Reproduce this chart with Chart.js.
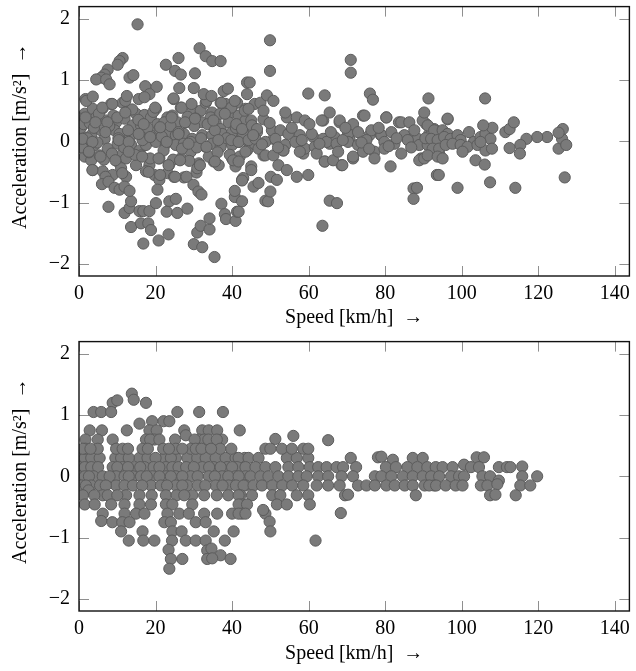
<!DOCTYPE html>
<html>
<head>
<meta charset="utf-8">
<script src="https://cdn.jsdelivr.net/npm/chart.js@4.4.1/dist/chart.umd.min.js"></script>
<style>
  html, body { margin: 0; padding: 0; background: #fff; }
  canvas { display: block; }
</style>
</head>
<body>
<canvas id="top" width="636" height="335"></canvas>
<canvas id="bottom" width="636" height="336"></canvas>
<script>
// ---- Data (speed km/h, acceleration m/s^2) ----
const xTickValues = [0, 20, 40, 60, 80, 100, 120, 140];
const yTickValues = [-2, -1, 0, 1, 2];
const xTitle = 'Speed [km/h]  \u2192';
const yTitle = '\u2002Acceleration [m/s\u00B2]  \u2192';

// upper panel: sparse outliers above the band
const topUpper = [
  [15.3,1.91],[31.5,1.52],[33.1,1.39],[34.8,1.31],[37.0,1.31],[11.4,1.36],[10.6,1.31],[10.1,1.25],
  [7.5,1.17],[6.7,1.09],[5.8,1.04],[4.5,1.01],[7.1,1.01],[8.0,0.93],[13.2,1.04],[14.2,1.08],
  [22.7,1.25],[25.1,1.15],[26.6,1.09],[26.0,1.36],[30.3,1.11],[17.3,0.90],[20.3,0.89],[18.4,0.77],
  [17.1,0.72],[26.2,0.87],[30.0,0.87],[32.6,0.77],[34.6,0.74],[37.8,0.82],[38.9,0.86],[43.9,0.96],
  [1.9,0.66],[3.6,0.73],[12.5,0.74],[24.7,0.70],
  [49.9,1.65],[49.9,1.15],[44.6,0.96],[71.0,1.33],[71.0,1.12],[59.9,0.78],[64.2,0.75],[76.0,0.78],
  [76.8,0.68],[91.3,0.70],[90.2,0.47],[106.1,0.70],[96.3,0.37],[113.6,0.31],[126.4,0.20],[125.3,0.14]
];
// upper panel: sparse outliers below the band
const topLower = [
  [7.7,-1.07],[11.9,-1.17],[13.2,-1.09],[15.8,-1.14],[16.8,-1.14],[18.4,-1.14],[13.6,-0.98],[20.1,-1.01],
  [23.6,-0.98],[25.3,-0.94],[22.9,-1.15],[25.7,-1.17],[28.3,-1.10],[13.6,-1.40],[16.2,-1.34],[18.1,-1.34],
  [18.8,-1.45],[16.8,-1.67],[20.8,-1.62],[23.4,-1.52],[30.0,-1.68],[32.2,-1.73],[30.9,-1.49],[31.8,-1.38],
  [34.1,-1.44],[34.1,-1.26],[35.4,-1.89],[37.2,-1.02],[38.1,-1.19],[38.4,-1.27],[40.9,-1.30],[41.3,-1.15],
  [40.7,-0.91],[42.6,-0.98],[6.0,-0.70],[7.7,-0.66],[9.3,-0.76],[10.6,-0.79],[11.9,-0.74],[13.2,-0.81],
  [20.5,-0.79],[29.9,-0.71],[31.2,-0.82],[32.0,-0.87],[40.7,-0.81],[42.6,-0.64],
  [65.5,-0.97],[67.4,-1.01],[63.6,-1.38],[87.4,-0.77],[88.3,-0.76],[87.4,-0.94],[81.4,-0.41],[48.7,-0.97],
  [49.4,-0.98],[50.0,-0.82],[41.7,-1.15],[45.6,-0.74],[46.9,-0.68],[50.1,-0.58],[51.7,-0.63],[59.9,-0.55],
  [56.9,-0.58],[68.8,-0.39],[93.5,-0.55],[41.7,-0.33],[45.0,-0.47],[52.1,-0.39],[54.3,-0.47],
  [127.3,-0.06],[126.9,-0.59],[94.0,-0.55],[98.9,-0.76],[107.4,-0.67],[114.0,-0.76],[103.6,-0.31],[106.0,-0.38]
];
// upper panel: dense band, 0-45 km/h
const topBandSlow = [
  [1.5,0.45],[3.6,0.53],[6.2,0.54],[8.4,0.61],[11.4,0.63],[12.3,0.47],[14.9,0.45],[17.1,0.43],[20.1,0.53],
  [23.1,0.39],[24.4,0.42],[26.6,0.55],[29.6,0.54],[31.8,0.50],[33.1,0.63],[34.8,0.47],[37.0,0.63],[38.3,0.61],
  [40.0,0.47],[41.3,0.63],[43.5,0.53],
  [0.2,0.37],[1.5,0.34],[4.5,0.39],[7.1,0.34],[9.7,0.31],[11.9,0.37],[14.0,0.26],[16.2,0.26],[18.8,0.39],
  [20.5,0.28],[22.3,0.31],[25.7,0.31],[27.9,0.31],[30.5,0.37],[32.2,0.31],[34.4,0.39],[35.7,0.31],[37.0,0.20],
  [39.1,0.31],[41.7,0.42],[43.5,0.34],
  [0.0,0.12],[1.0,0.07],[3.2,0.10],[5.8,0.18],[6.7,0.04],[9.3,0.18],[10.6,0.12],[13.2,0.04],[15.8,0.12],
  [18.8,0.10],[21.0,0.20],[23.5,0.12],[25.3,0.10],[27.4,0.12],[29.6,0.04],[32.2,0.10],[34.8,0.10],[37.4,0.12],
  [40.0,0.15],[42.6,0.07],[44.3,-0.01],
  [0.2,-0.04],[1.9,-0.12],[4.1,-0.06],[7.5,-0.12],[10.1,-0.04],[11.4,-0.20],[13.6,-0.06],[15.8,-0.15],
  [17.5,-0.06],[20.1,-0.01],[22.7,-0.04],[25.3,-0.06],[27.4,-0.04],[29.2,-0.01],[33.1,-0.09],[34.8,-0.04],
  [37.0,-0.09],[40.0,-0.06],[41.7,-0.01],[43.9,-0.15],
  [1.5,-0.25],[3.2,-0.31],[5.4,-0.23],[10.1,-0.33],[12.3,-0.28],[14.9,-0.39],[16.2,-0.23],[18.4,-0.39],
  [21.0,-0.28],[23.5,-0.39],[26.6,-0.28],[29.2,-0.17],[31.3,-0.36],[35.2,-0.33],[36.5,-0.39],[40.0,-0.28],
  [40.9,-0.41],
  [3.6,-0.47],[6.2,-0.49],[8.8,-0.55],[11.0,-0.44],[12.3,-0.58],[17.5,-0.49],[19.7,-0.55],[21.0,-0.63],
  [23.1,-0.52],[24.8,-0.58],[27.4,-0.59],[30.7,-0.51],[30.9,-0.44],[42.6,-0.63],
  [0.5,0.22],[0.8,-0.10],[1.2,0.28],[2.2,0.05],[2.6,-0.18],[2.8,0.30],[3.9,0.22],[4.8,-0.02],[5.2,0.45],
  [6.5,-0.30],[7.9,0.25],[8.6,-0.20],[9.0,0.42],[10.3,0.05],[11.8,-0.10],[12.8,0.18],[13.9,0.52],[14.6,-0.22],
  [15.5,0.35],[16.6,0.02],[17.9,0.22],[18.6,-0.28],[19.4,0.48],[21.6,0.08],[22.1,-0.15],[23.9,0.25],
  [24.6,-0.30],[26.0,0.15],[26.9,-0.12],[28.4,0.40],[28.8,-0.32],[30.1,0.25],[30.8,-0.10],[31.9,0.05],
  [33.6,0.28],[33.9,-0.25],[35.5,0.18],[36.2,-0.18],[36.9,0.45],[38.6,0.05],[39.4,-0.22],[39.8,0.55],
  [41.0,0.22],[42.0,-0.25],[43.2,0.12]
];
// upper panel: further band points read from close-ups
const topBandExtra = [
  [1.7,0.69],[6.1,0.55],[8.7,0.61],[12.1,0.66],[15.6,0.69],[19.9,0.55],[24.7,0.69],[26.8,0.55],[29.4,0.61],
  [33.3,0.66],[37.2,0.63],[40.7,0.66],[43.3,0.50],[45.9,0.61],
  [1.7,0.39],[4.3,0.31],[7.4,0.31],[10.0,0.39],[12.1,0.47],[16.9,0.28],[21.2,0.23],[24.2,0.39],[27.7,0.31],
  [30.3,0.37],[35.1,0.34],[38.1,0.45],[41.1,0.28],[45.0,0.34],
  [0.9,0.04],[3.5,-0.01],[6.9,0.15],[10.4,0.02],[13.0,-0.01],[15.6,0.12],[18.6,0.07],[22.9,-0.01],[26.0,0.12],
  [28.6,-0.04],[33.3,-0.09],[36.4,0.02],[39.8,0.02],[42.9,0.12],[45.9,-0.04],
  [2.6,-0.17],[5.6,-0.25],[9.5,-0.31],[13.0,-0.17],[16.5,-0.25],[20.8,-0.28],[23.4,-0.39],[26.4,-0.31],
  [31.6,-0.39],[35.5,-0.33],[40.3,-0.31],[45.0,-0.41],
  [3.5,-0.47],[6.9,-0.58],[11.3,-0.52],[18.2,-0.50],[21.2,-0.55],[25.1,-0.58],[28.1,-0.58],[42.9,-0.60],
  [48.2,0.36],[54.3,0.39],[63.8,0.34],[68.1,0.31],[74.2,0.42],[80.3,0.39],[83.6,0.31],[90.7,0.28],[96.3,0.36],
  [46.5,0.15],[50.8,0.04],[57.8,-0.01],[61.2,0.07],[65.5,-0.04],[70.7,0.02],[75.9,0.10],[78.9,0.10],[86.3,0.04],
  [91.5,0.12],[94.9,-0.01],
  [48.2,-0.23],[53.4,-0.15],[58.6,-0.20],[64.2,-0.33],[68.6,-0.39],[71.6,-0.28],[89.4,-0.28],[94.1,-0.20]
];
// upper panel: band, 42-128 km/h
const topBandFast = [
  [43.9,0.77],[47.4,0.63],[49.1,0.75],[50.8,0.66],[48.2,0.50],[44.3,0.53],[53.9,0.47],[56.9,0.39],[59.0,0.34],
  [63.4,0.34],[65.5,0.47],[68.1,0.34],[71.6,0.28],[74.6,0.42],[80.3,0.39],[84.2,0.31],[86.3,0.31],[89.8,0.34],
  [92.8,0.20],
  [42.6,0.20],[45.2,0.26],[46.5,0.20],[50.4,0.18],[52.6,0.18],[54.7,0.12],[57.7,0.10],[60.8,0.12],[63.8,0.04],
  [66.8,0.07],[70.3,0.12],[72.9,0.15],[76.4,0.18],[79.0,0.10],[81.6,0.15],[85.0,0.10],[88.5,0.04],[91.9,0.10],
  [41.7,-0.01],[44.3,0.02],[46.1,0.04],[48.7,-0.01],[51.3,0.04],[53.9,-0.06],[56.5,-0.01],[59.0,-0.12],
  [61.6,-0.09],[64.7,-0.01],[67.3,-0.04],[70.3,-0.01],[72.9,-0.06],[75.1,0.02],[77.2,-0.17],[79.8,-0.01],
  [82.4,-0.04],[85.9,0.02],[88.9,-0.06],[91.1,-0.06],[93.7,-0.01],
  [43.5,-0.17],[46.9,-0.12],[48.7,-0.23],[50.8,-0.23],[53.4,-0.15],[57.7,-0.17],[62.1,-0.20],[64.2,-0.33],
  [66.4,-0.31],[67.7,-0.17],[71.6,-0.25],[74.2,-0.17],[77.2,-0.28],[79.8,-0.12],[84.2,-0.20],[88.9,-0.31],
  [90.2,-0.28],
  [45.5,0.10],[47.8,-0.05],[49.8,0.30],[52.0,-0.10],[55.6,0.22],[58.2,0.02],[60.2,0.28],[62.8,-0.04],
  [65.8,0.15],[68.9,0.02],[69.6,0.22],[73.8,-0.02],[75.8,-0.12],[78.3,0.22],[80.9,-0.08],[83.0,0.05],
  [86.8,-0.10],[87.6,0.18],[90.5,0.05],
  [91.1,0.26],[92.8,0.18],[95.0,0.18],[96.3,0.12],[92.0,0.04],[93.7,0.02],[95.4,0.07],[97.1,0.04],[98.9,0.10],
  [99.7,0.02],[101.9,0.15],[103.2,-0.01],[104.9,0.07],[106.2,0.12],[107.5,0.04],[92.4,-0.12],[94.1,-0.12],
  [95.8,-0.06],[97.6,-0.04],[99.7,-0.06],[101.5,-0.09],[104.1,-0.06],[106.2,-0.15],[107.9,-0.12],[91.1,-0.23],
  [93.7,-0.25],[95.0,-0.28],[100.2,-0.17],[104.9,-0.01],
  [122.3,0.07],[119.7,0.07],[116.9,0.04],[115.3,-0.06],[115.2,-0.20],[112.5,-0.11],[111.4,0.15],[112.5,0.20],
  [108.0,0.22],[105.6,0.26],[125.3,-0.12],[126.2,0.04]
];

// lower panel (acceleration quantised in ~0.15 steps)
const bottomUpper = [
  [13.8,1.35],[14.3,1.25],[17.5,1.20],[8.8,1.20],[10.0,1.24],[3.8,1.05],[5.8,1.05],[8.4,1.05],[25.7,1.05],
  [31.4,1.05],[37.6,1.05],[15.8,0.86],[19.1,0.90],[22.1,0.90],[23.6,0.90],
  [2.8,0.75],[6.0,0.75],[12.5,0.75],[18.4,0.75],[20.3,0.75],[27.5,0.75],[32.2,0.75],[33.9,0.75],[36.1,0.75],
  [42.0,0.75],[27.9,0.67],
  [1.7,0.60],[4.9,0.60],[8.8,0.60],[17.5,0.60],[19.7,0.60],[25.1,0.60],[31.4,0.60],[32.7,0.60],[33.8,0.60],
  [37.4,0.60],[18.6,0.60],[21.0,0.60],[30.2,0.60],[36.0,0.60],[51.3,0.61],[65.1,0.59],[56.0,0.66],
  [1.7,0.45],[4.9,0.45],[9.7,0.45],[11.4,0.45],[12.8,0.45],[16.6,0.45],[22.0,0.45],[25.3,0.45],[29.2,0.45],
  [30.5,0.45],[36.9,0.45],[39.8,0.45],[1.0,0.45],[3.0,0.45],[18.0,0.45],[23.5,0.45],[27.0,0.45],[32.0,0.45],
  [34.5,0.45],[48.7,0.45],[50.0,0.45],[53.0,0.45],[55.6,0.45],[58.6,0.45],[59.9,0.45]
];
const bottomMid = [
  [0.5,0.30],[1.5,0.30],[3.2,0.30],[5.4,0.30],[15.8,0.30],[17.9,0.30],[22.3,0.30],[25.3,0.30],[28.3,0.30],
  [30.9,0.30],[33.1,0.30],[35.7,0.30],[38.3,0.30],[40.9,0.30],[43.3,0.30],[9.5,0.30],[11.0,0.30],[13.0,0.30],
  [20.0,0.30],[24.0,0.30],[41.7,0.30],[44.3,0.30],[46.9,0.30],[54.3,0.30],[56.9,0.30],[59.9,0.30],[71.0,0.30],
  [78.1,0.31],[79.0,0.32],[82.0,0.27],[87.2,0.30],[89.8,0.30],[103.9,0.31],[105.8,0.31],
  [0.0,0.15],[1.5,0.15],[3.2,0.15],[8.8,0.15],[11.4,0.15],[14.5,0.15],[17.1,0.15],[22.7,0.15],[24.4,0.15],
  [32.2,0.15],[35.2,0.15],[38.7,0.15],[41.3,0.15],[43.5,0.15],[5.0,0.15],[10.0,0.15],[12.8,0.15],[16.0,0.15],
  [19.5,0.15],[21.0,0.15],[26.0,0.15],[28.0,0.15],[30.0,0.15],[34.0,0.15],[37.0,0.15],[40.0,0.15],[46.1,0.15],
  [48.7,0.15],[51.3,0.15],[54.7,0.15],[57.3,0.15],[60.3,0.15],[62.5,0.15],[64.7,0.15],[67.3,0.15],[69.0,0.15],
  [72.4,0.15],[80.2,0.15],[82.8,0.15],[85.8,0.15],[88.4,0.15],[91.0,0.15],[93.2,0.15],[95.0,0.15],[97.6,0.15],
  [100.6,0.19],[102.4,0.15],[104.5,0.15],[109.7,0.15],[111.8,0.15],[112.7,0.15],[115.8,0.16],
  [0.0,0.00],[1.5,0.00],[3.8,0.00],[6.2,0.00],[9.7,0.00],[11.9,0.00],[14.1,0.00],[16.2,0.00],[19.2,0.00],
  [22.7,0.00],[25.3,0.00],[29.2,0.00],[33.9,0.00],[37.4,0.00],[40.9,0.00],[43.5,0.00],[2.6,0.00],[8.0,0.00],
  [13.0,0.00],[17.7,0.00],[21.0,0.00],[24.0,0.00],[27.0,0.00],[31.0,0.00],[35.5,0.00],[39.0,0.00],[41.7,0.00],
  [44.8,0.00],[47.4,0.00],[49.5,0.00],[52.1,0.00],[54.7,0.00],[57.3,0.00],[59.5,0.00],[62.5,0.00],[65.1,0.00],
  [68.6,0.00],[71.6,0.00],[77.3,0.00],[79.0,0.00],[81.6,0.00],[84.6,0.00],[87.2,0.00],[89.8,0.00],[92.0,0.00],
  [94.1,0.00],[97.2,0.00],[99.3,0.00],[100.6,0.00],[105.4,0.00],[107.4,0.00],[109.7,-0.07],[115.8,0.00],
  [119.7,0.00],
  [0.6,-0.15],[3.2,-0.15],[9.7,-0.15],[11.9,-0.15],[14.1,-0.15],[18.8,-0.15],[21.4,-0.15],[25.3,-0.15],
  [28.3,-0.15],[35.7,-0.15],[39.1,-0.15],[43.5,-0.15],[1.8,-0.15],[5.5,-0.15],[7.0,-0.15],[16.5,-0.15],
  [23.0,-0.15],[27.0,-0.15],[31.0,-0.15],[33.0,-0.15],[37.5,-0.15],[41.0,-0.15],[43.0,-0.15],[45.6,-0.15],
  [47.8,-0.15],[50.5,-0.15],[53.1,-0.15],[55.7,-0.15],[58.6,-0.15],[62.1,-0.15],[65.1,-0.15],[68.1,-0.15],
  [72.9,-0.15],[75.1,-0.15],[77.3,-0.15],[80.3,-0.15],[82.5,-0.15],[85.1,-0.15],[87.2,-0.15],[90.3,-0.15],
  [92.8,-0.15],[91.5,-0.15],[93.3,-0.15],[95.8,-0.15],[98.4,-0.15],[100.2,-0.15],[105.0,-0.15],[106.7,-0.15],
  [109.3,-0.13],[115.3,-0.15],[117.9,-0.15]
];
const bottomLower = [
  [6.2,-0.31],[7.5,-0.31],[12.3,-0.31],[15.8,-0.31],[22.7,-0.31],[29.6,-0.31],[32.7,-0.31],[42.2,-0.31],
  [2.5,-0.23],[1.0,-0.31],[4.0,-0.31],[10.0,-0.31],[19.0,-0.31],[25.5,-0.31],[27.5,-0.31],[36.0,-0.31],
  [39.0,-0.31],[41.7,-0.31],[45.2,-0.31],[50.5,-0.31],[52.6,-0.31],[56.9,-0.31],[59.9,-0.31],[69.5,-0.31],
  [70.3,-0.30],[88.0,-0.31],[107.4,-0.31],[108.8,-0.30],[114.1,-0.31],
  [1.5,-0.46],[4.1,-0.46],[8.4,-0.46],[11.9,-0.46],[15.8,-0.46],[18.8,-0.46],[22.7,-0.46],[24.4,-0.46],
  [29.6,-0.46],[42.6,-0.46],[41.7,-0.46],[43.9,-0.46],[51.7,-0.46],[54.3,-0.46],[60.3,-0.46],
  [6.2,-0.61],[11.9,-0.61],[14.9,-0.61],[17.1,-0.61],[23.1,-0.61],[26.2,-0.61],[28.7,-0.61],[32.7,-0.61],
  [36.1,-0.61],[40.0,-0.61],[42.6,-0.61],[41.7,-0.61],[43.5,-0.61],[48.7,-0.61],[68.4,-0.60],[48.1,-0.55],
  [5.8,-0.73],[8.7,-0.75],[11.3,-0.75],[13.2,-0.75],[22.3,-0.75],[24.0,-0.75],[30.5,-0.75],[33.1,-0.75],
  [49.8,-0.74],
  [11.0,-0.90],[16.6,-0.90],[24.4,-0.90],[26.8,-0.90],[35.2,-0.90],[40.4,-0.90],[50.0,-0.90],
  [13.0,-1.05],[16.8,-1.05],[19.7,-1.05],[24.3,-1.05],[27.9,-1.05],[30.5,-1.05],[33.1,-1.05],[38.1,-1.05],
  [61.8,-1.05],
  [23.4,-1.20],[33.5,-1.21],[34.6,-1.18],[37.0,-1.29],
  [24.0,-1.35],[27.0,-1.35],[33.5,-1.35],[34.8,-1.34],[39.6,-1.35],[23.6,-1.51]
];

const topPoints = [].concat(topBandSlow, topBandExtra, topBandFast, topUpper, topLower);
const bottomPoints = [].concat(bottomMid, bottomUpper, bottomLower);

// ---- Styling ----
const FONT = { family: '"Liberation Serif", "DejaVu Serif", serif', size: 20 };
const TICK_LEN = 10;

const frameTicks = {
  id: 'frameTicks',
  beforeDatasetsDraw(chart) {
    const { ctx, chartArea: a, scales: { x, y } } = chart;
    ctx.save();
    ctx.strokeStyle = '#8f8f8f';
    ctx.lineWidth = 1;
    ctx.beginPath();
    x.ticks.forEach(t => {
      const px = Math.round(x.getPixelForValue(t.value)) + 0.5;
      ctx.moveTo(px, a.bottom); ctx.lineTo(px, a.bottom - TICK_LEN);
      ctx.moveTo(px, a.top); ctx.lineTo(px, a.top + TICK_LEN);
    });
    y.ticks.forEach(t => {
      const py = Math.round(y.getPixelForValue(t.value)) + 0.5;
      ctx.moveTo(a.left, py); ctx.lineTo(a.left + TICK_LEN, py);
      ctx.moveTo(a.right, py); ctx.lineTo(a.right - TICK_LEN, py);
    });
    ctx.stroke();
    ctx.restore();
  },
  afterDraw(chart) {
    const { ctx, chartArea: a } = chart;
    ctx.save();
    ctx.strokeStyle = '#111';
    ctx.lineWidth = 1.4;
    ctx.strokeRect(a.left, a.top, a.right - a.left, a.bottom - a.top);
    ctx.restore();
  }
};

function makeChart(id, points, topPad, xHeight) {
  return new Chart(document.getElementById(id), {
    type: 'scatter',
    data: {
      datasets: [{
        data: points.map(p => ({ x: p[0], y: p[1] })),
        backgroundColor: 'rgb(122,122,122)',
        borderColor: 'rgb(92,92,92)',
        borderWidth: 1,
        pointRadius: 5.6,
        pointHoverRadius: 5.6
      }]
    },
    options: {
      responsive: false,
      devicePixelRatio: 1,
      animation: false,
      events: [],
      layout: { padding: { top: topPad, right: 3, left: 0, bottom: 0 } },
      plugins: { legend: { display: false }, tooltip: { enabled: false } },
      scales: {
        x: {
          type: 'linear', min: 0, max: 143.8,
          afterBuildTicks: s => { s.ticks = xTickValues.map(v => ({ value: v })); },
          afterFit: s => { s.height = xHeight; s.paddingLeft = 0; s.paddingRight = 0; },
          grid: { display: false, drawTicks: false },
          border: { display: false },
          ticks: { font: FONT, color: '#000', padding: 6, maxRotation: 0 },
          title: { display: true, text: xTitle, font: FONT, color: '#000', padding: { top: 0, bottom: 5 } }
        },
        y: {
          type: 'linear', min: -2.2, max: 2.2,
          afterBuildTicks: s => { s.ticks = yTickValues.map(v => ({ value: v })); },
          afterFit: s => { s.width = 79; s.paddingTop = 0; s.paddingBottom = 0; },
          grid: { display: false, drawTicks: false },
          border: { display: false },
          ticks: { font: FONT, color: '#000', padding: 9,
                   callback: v => String(v).replace('-', '\u2212') },
          title: { display: true, text: yTitle, font: FONT, color: '#000', padding: { top: 9, bottom: 0 } }
        }
      }
    },
    plugins: [frameTicks]
  });
}

makeChart('top', topPoints, 3, 59);
makeChart('bottom', bottomPoints, 4, 60);
</script>
</body>
</html>
